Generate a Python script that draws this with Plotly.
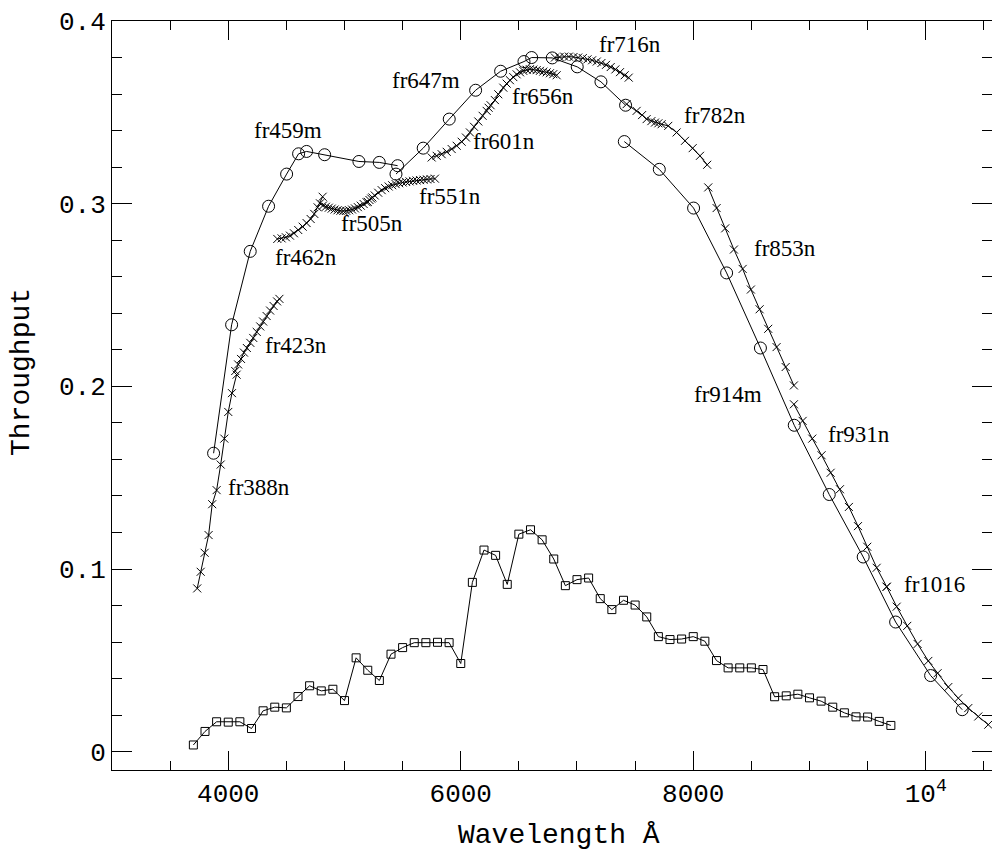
import plotly.graph_objects as go

# ---------------- data ----------------
# broad-band (squares)
sq_wave = [3700, 3800, 3900, 4000, 4100, 4200, 4300, 4400, 4500, 4600, 4700, 4800, 4900,
           5000, 5100, 5200, 5300, 5400, 5500, 5600, 5700, 5800, 5900, 6000, 6100, 6200,
           6300, 6400, 6500, 6600, 6700, 6800, 6900, 7000, 7100, 7200, 7300, 7400, 7500,
           7600, 7700, 7800, 7900, 8000, 8100, 8200, 8300, 8400, 8500, 8600, 8700, 8800,
           8900, 9000, 9100, 9200, 9300, 9400, 9500, 9600, 9700]
sq_thr = [0.0037, 0.0111, 0.0164, 0.0162, 0.0164, 0.0127, 0.0224, 0.0244, 0.0240, 0.0302,
          0.0361, 0.0333, 0.0342, 0.0280, 0.0514, 0.0446, 0.0390, 0.0534, 0.0570, 0.0597,
          0.0597, 0.0599, 0.0597, 0.0483, 0.0927, 0.1104, 0.1075, 0.0916, 0.1191, 0.1215,
          0.1160, 0.1055, 0.0909, 0.0942, 0.0951, 0.0838, 0.0778, 0.0829, 0.0803, 0.0738,
          0.0630, 0.0614, 0.0617, 0.0630, 0.0605, 0.0499, 0.0459, 0.0459, 0.0459, 0.0450,
          0.0301, 0.0306, 0.0315, 0.0295, 0.0277, 0.0244, 0.0213, 0.0191, 0.0190, 0.0166,
          0.0144]

# medium-band filters (circles)
fr459m_wave = [3874, 4029, 4189, 4347, 4502, 4605, 4674, 4829, 5124, 5299, 5457]
fr459m_thr = [0.1634, 0.2337, 0.2739, 0.2986, 0.3162, 0.3273, 0.3286, 0.3268, 0.3231, 0.3226, 0.3208]
fr647m_wave = [5443, 5677, 5901, 6128, 6343, 6544, 6610, 6787, 7002, 7206, 7418]
fr647m_thr = [0.3162, 0.3304, 0.3463, 0.3621, 0.3725, 0.3778, 0.3800, 0.3798, 0.3749, 0.3667, 0.3539]
fr914m_wave = [7407, 7708, 8003, 8287, 8578, 8869, 9170, 9462, 9741, 10042, 10314]
fr914m_thr = [0.3340, 0.3188, 0.2976, 0.2621, 0.2210, 0.1787, 0.1408, 0.1066, 0.0710, 0.0417, 0.0230]

# narrow-band filters (crosses)
fr388n_wave = [3733, 3763, 3797, 3831, 3862, 3900, 3935, 3966, 4000, 4032, 4072]
fr388n_thr = [0.0894, 0.0985, 0.1089, 0.1186, 0.1355, 0.1432, 0.1572, 0.1714, 0.1860, 0.1963, 0.2064]
fr423n_wave = [4060, 4085, 4110, 4135, 4160, 4190, 4215, 4245, 4275, 4300, 4330, 4360, 4390, 4420, 4440]
fr423n_thr = [0.2084, 0.2120, 0.2150, 0.2185, 0.2210, 0.2238, 0.2265, 0.2298, 0.2328, 0.2355,
              0.2385, 0.2415, 0.2440, 0.2465, 0.2479]
fr462n_wave = [4422, 4459, 4496, 4531, 4565, 4602, 4640, 4674, 4709, 4740, 4769, 4812]
fr462n_thr = [0.2807, 0.2810, 0.2816, 0.2825, 0.2838, 0.2856, 0.2874, 0.2894, 0.2916, 0.2944, 0.2980, 0.3038]
fr505n_wave = [4789, 4815, 4840, 4865, 4890, 4915, 4940, 4965, 4990, 5015, 5040, 5065, 5090,
               5115, 5140, 5165, 5190, 5215, 5240]
fr505n_thr = [0.3002, 0.2990, 0.2983, 0.2978, 0.2973, 0.2968, 0.2964, 0.2961, 0.2960, 0.2961,
              0.2964, 0.2968, 0.2974, 0.2981, 0.2989, 0.2998, 0.3008, 0.3020, 0.3034]
fr551n_wave = [5200, 5230, 5260, 5290, 5320, 5350, 5380, 5410, 5440, 5470, 5500, 5530, 5560,
               5590, 5620, 5650, 5680, 5710, 5740, 5778]
fr551n_thr = [0.3010, 0.3028, 0.3045, 0.3060, 0.3074, 0.3085, 0.3094, 0.3101, 0.3107, 0.3112,
              0.3116, 0.3119, 0.3122, 0.3125, 0.3127, 0.3129, 0.3131, 0.3133, 0.3135, 0.3137]
fr601n_wave = [5750, 5793, 5836, 5879, 5922, 5965, 6008, 6045, 6079, 6114, 6151, 6188, 6223, 6257]
fr601n_thr = [0.3253, 0.3262, 0.3271, 0.3284, 0.3299, 0.3317, 0.3339, 0.3362, 0.3390, 0.3421,
              0.3450, 0.3481, 0.3508, 0.3539]
fr656n_wave = [6240, 6294, 6323, 6366, 6395, 6423, 6452, 6481, 6510, 6538, 6567, 6595, 6624,
               6653, 6681, 6710, 6739, 6767, 6796, 6825]
fr656n_thr = [0.3525, 0.3567, 0.3599, 0.3635, 0.3657, 0.3676, 0.3693, 0.3708, 0.3719, 0.3727,
              0.3733, 0.3736, 0.3734, 0.3731, 0.3727, 0.3723, 0.3719, 0.3714, 0.3709, 0.3703]
fr716n_wave = [6810, 6850, 6890, 6930, 6970, 7010, 7050, 7090, 7130, 7170, 7210, 7250, 7290,
               7330, 7370, 7410, 7445]
fr716n_thr = [0.3800, 0.3803, 0.3805, 0.3805, 0.3803, 0.3800, 0.3797, 0.3790, 0.3785, 0.3778,
              0.3770, 0.3760, 0.3748, 0.3735, 0.3720, 0.3703, 0.3690]
fr782n_wave = [7427, 7513, 7560, 7599, 7640, 7671, 7700, 7728, 7785, 7857, 7929, 7995, 8058, 8120]
fr782n_thr = [0.3545, 0.3508, 0.3485, 0.3463, 0.3452, 0.3444, 0.3440, 0.3435, 0.3426, 0.3390,
              0.3344, 0.3304, 0.3262, 0.3213]
fr853n_wave = [8129, 8201, 8275, 8350, 8425, 8496, 8571, 8645, 8717, 8795, 8866]
fr853n_thr = [0.3089, 0.2976, 0.2865, 0.2749, 0.2643, 0.2530, 0.2422, 0.2315, 0.2215, 0.2106, 0.2005]
fr931n_wave = [8866, 8941, 9024, 9104, 9182, 9262, 9339, 9417, 9497, 9578, 9664]
fr931n_thr = [0.1902, 0.1811, 0.1714, 0.1623, 0.1527, 0.1437, 0.1340, 0.1235, 0.1122, 0.1007, 0.0903]
fr1016_wave = [9664, 9750, 9841, 9930, 10022, 10102, 10194, 10280, 10366, 10452, 10538]
fr1016_thr = [0.0903, 0.0794, 0.0689, 0.0590, 0.0497, 0.0430, 0.0354, 0.0293, 0.0239, 0.0193, 0.0148]

# filter labels (text, wavelength, throughput)
label_text = ["fr459m", "fr647m", "fr716n", "fr656n", "fr601n", "fr782n", "fr853n", "fr551n",
              "fr505n", "fr462n", "fr423n", "fr388n", "fr914m", "fr931n", "fr1016"]
label_wave = [4514, 5701, 7456, 6707, 6372, 8187, 8789, 5911, 5236, 4668, 4582, 4264, 8298, 9425, 10079]
label_thr = [0.3398, 0.3672, 0.3869, 0.3589, 0.3343, 0.3485, 0.2752, 0.3042, 0.2894, 0.2708,
             0.2221, 0.1449, 0.1953, 0.1739, 0.0918]

x_tickvals = [4000, 6000, 8000, 10000]
x_ticktext = ["4000", "6000", "8000", "10<sup>4</sup>"]
y_tickvals = [0, 0.1, 0.2, 0.3, 0.4]
y_ticktext = ["0", "0.1", "0.2", "0.3", "0.4"]

# ---------------- figure ----------------
fig = go.Figure()
LINE = dict(color="black", width=1)


def add(xs, ys, symbol, size):
    fig.add_trace(go.Scatter(
        x=xs, y=ys, mode="lines+markers", line=LINE,
        marker=dict(symbol=symbol, size=size, color="black", line=dict(color="black", width=1)),
        showlegend=False, hoverinfo="x+y"))


add(sq_wave, sq_thr, "square-open", 8)
for xs, ys in [(fr459m_wave, fr459m_thr), (fr647m_wave, fr647m_thr), (fr914m_wave, fr914m_thr)]:
    add(xs, ys, "circle-open", 12)
for xs, ys in [(fr388n_wave, fr388n_thr), (fr423n_wave, fr423n_thr), (fr462n_wave, fr462n_thr),
               (fr505n_wave, fr505n_thr), (fr551n_wave, fr551n_thr), (fr601n_wave, fr601n_thr),
               (fr656n_wave, fr656n_thr), (fr716n_wave, fr716n_thr), (fr782n_wave, fr782n_thr),
               (fr853n_wave, fr853n_thr), (fr931n_wave, fr931n_thr), (fr1016_wave, fr1016_thr)]:
    add(xs, ys, "x-thin-open", 8)

for t, xw, yt in zip(label_text, label_wave, label_thr):
    fig.add_annotation(x=xw, y=yt, xref="x", yref="y", text=t, showarrow=False,
                       xanchor="center", yanchor="middle",
                       font=dict(family="Liberation Serif", size=23, color="black"))

AXFONT = dict(family="Liberation Mono", size=28, color="black")
TICKFONT = dict(family="Liberation Mono", size=26, color="black")
fig.add_annotation(x=-0.1023, y=0.5314, xref="paper", yref="paper", text="Throughput",
                   textangle=-90, showarrow=False, xanchor="center", yanchor="middle", font=AXFONT)
fig.add_annotation(x=0.508, y=-0.0868, xref="paper", yref="paper", text="Wavelength Å",
                   showarrow=False, xanchor="center", yanchor="middle", font=AXFONT)

fig.update_xaxes(range=[3000, 10570], tickmode="array", tickvals=x_tickvals, ticktext=x_ticktext,
                 ticks="inside", ticklen=19, tickwidth=1, tickcolor="black",
                 minor=dict(dtick=500, tick0=0, ticks="inside", ticklen=9, tickwidth=1, tickcolor="black"),
                 showline=True, linecolor="black", linewidth=1, mirror="allticks",
                 showgrid=False, zeroline=False, tickfont=TICKFONT)
fig.update_yaxes(range=[-0.01, 0.4], tickmode="array", tickvals=y_tickvals, ticktext=y_ticktext,
                 ticks="inside", ticklen=20, tickwidth=1, tickcolor="black",
                 minor=dict(dtick=0.02, tick0=0, ticks="inside", ticklen=10, tickwidth=1, tickcolor="black"),
                 showline=True, linecolor="black", linewidth=1, mirror="allticks",
                 showgrid=False, zeroline=False, tickfont=TICKFONT)

fig.update_layout(width=992, height=850, margin=dict(l=112, r=0, t=21, b=80),
                  paper_bgcolor="white", plot_bgcolor="white")

fig.write_html("out.html")
